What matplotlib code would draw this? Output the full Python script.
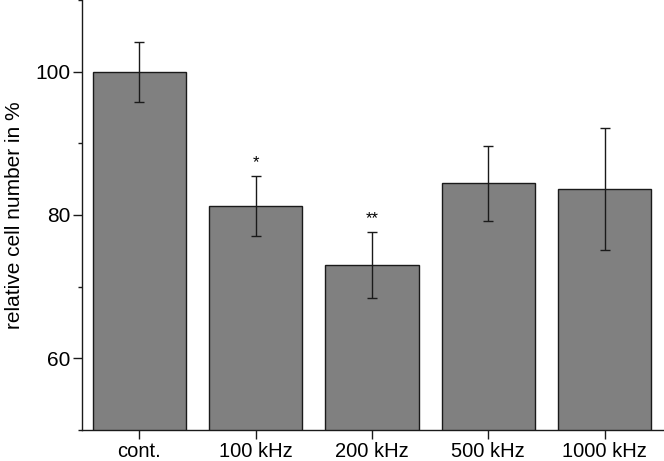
import matplotlib
matplotlib.use("Agg")
import matplotlib.pyplot as plt
from matplotlib.ticker import MultipleLocator

categories = ["cont.", "100 kHz", "200 kHz", "500 kHz", "1000 kHz"]
values = [100.0, 81.3, 73.0, 84.4, 83.6]
errors = [4.2, 4.2, 4.6, 5.2, 8.5]
signif = ["", "*", "**", "", ""]

plt.rcParams['font.family'] = ['Liberation Sans', 'DejaVu Sans']

fig = plt.figure(figsize=(6.64, 4.61), dpi=100)
ax = fig.add_axes([81.7 / 664, 1 - 430 / 461, (664 - 81.7) / 664, 430 / 461])

x = list(range(len(categories)))
ax.bar(x, values, width=0.8, color="#808080", edgecolor="#1a1a1a", linewidth=1.0, zorder=2)
ax.errorbar(x, values, yerr=errors, fmt="none", ecolor="#1a1a1a", elinewidth=1.0,
            capsize=3.3, capthick=1.0, zorder=3)
for xi, v, e, s in zip(x, values, errors, signif):
    if s:
        ax.text(xi, v + e + 0.8, s, ha="center", va="bottom", fontsize=12)

ax.set_xlim(-0.495, 4.51)
ax.set_ylim(50, 110)
ax.set_xticks(x)
ax.set_xticklabels(categories, fontsize=14.5)
ax.yaxis.set_major_locator(MultipleLocator(20))
ax.yaxis.set_minor_locator(MultipleLocator(10))
ax.set_yticks([60, 80, 100])
ax.set_yticklabels(["60", "80", "100"], fontsize=15)
ax.tick_params(axis="both", which="major", direction="out", length=6.3, width=1.0, color="#1a1a1a")
ax.tick_params(axis="y", which="minor", direction="out", length=3, width=1.0, color="#1a1a1a")
ax.tick_params(axis="x", pad=2.5)
ax.tick_params(axis="y", pad=2)
ax.set_ylabel("relative cell number in %", fontsize=15, labelpad=8)

for sp in ["top", "right"]:
    ax.spines[sp].set_visible(False)
for sp in ["left", "bottom"]:
    ax.spines[sp].set_linewidth(1.0)
    ax.spines[sp].set_color("#1a1a1a")

fig.savefig("out.png", dpi=100)
